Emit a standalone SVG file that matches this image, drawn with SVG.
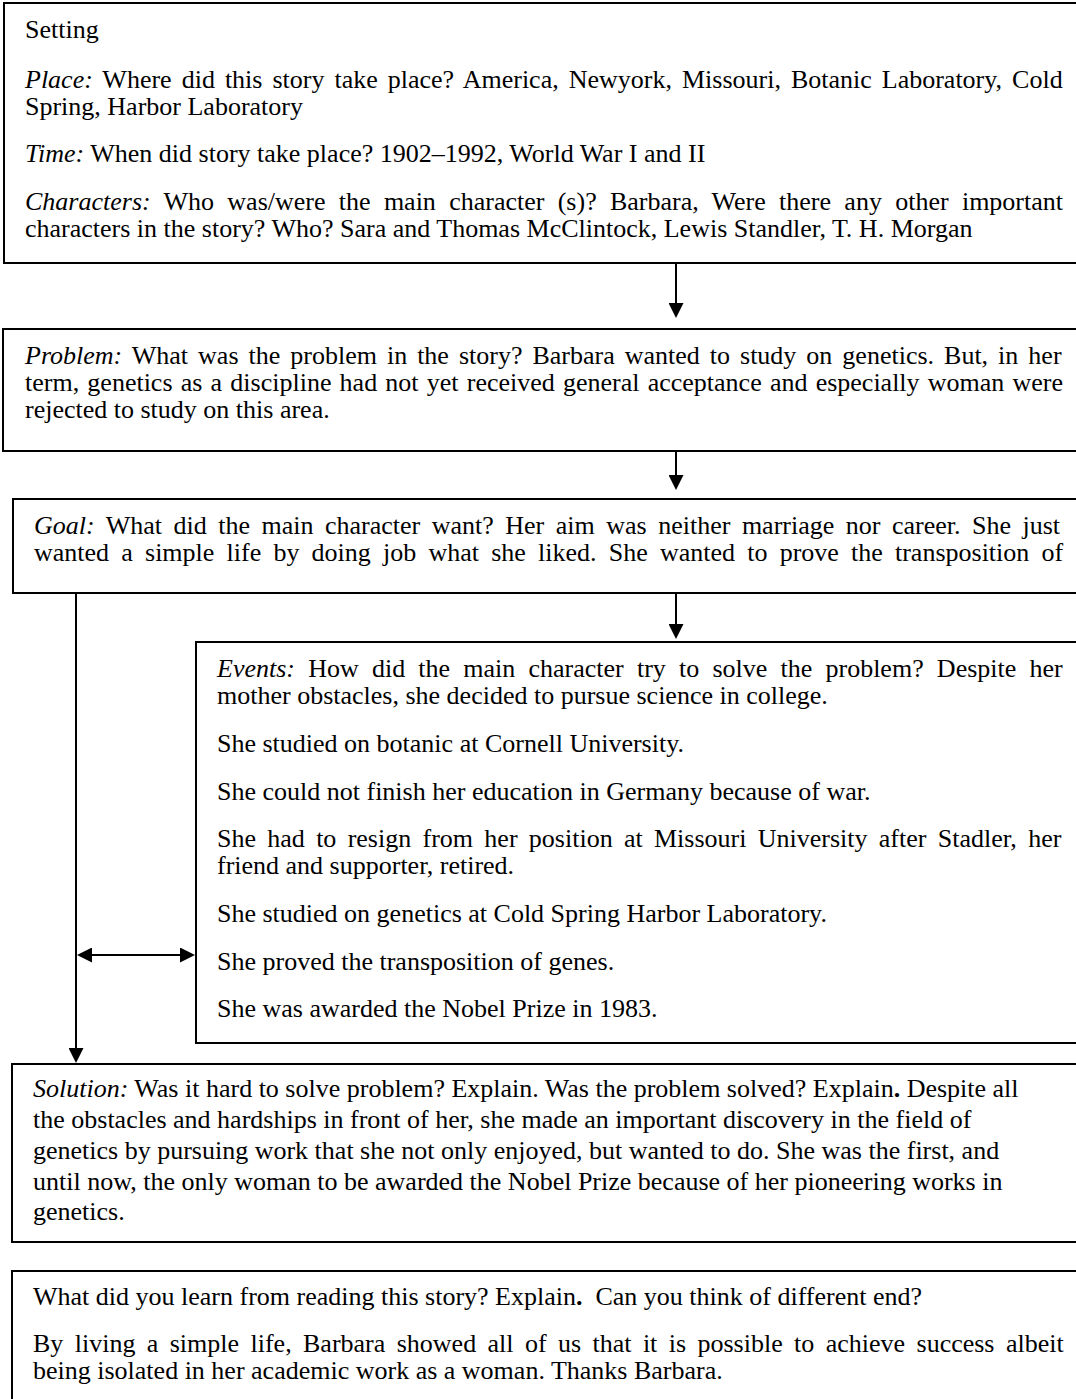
<svg xmlns="http://www.w3.org/2000/svg" width="1076" height="1399" viewBox="0 0 1076 1399">
<style>
.box{fill:none;stroke:#000;stroke-width:2}
.t{font-family:"Liberation Serif","Times New Roman",serif;font-size:26px;fill:#000}
.i{font-style:italic}
.b{font-weight:bold}
.c{fill:none;stroke:#000;stroke-width:2}
</style>
<defs>
<marker id="ah" viewBox="0 0 15 15" refX="7" refY="7.5" markerWidth="15" markerHeight="15" markerUnits="userSpaceOnUse" orient="auto-start-reverse">
<path d="M0,0 L15,7.5 L0,15 z" fill="#000"/>
</marker>
</defs>
<rect x="0" y="0" width="1076" height="1399" fill="#fff"/>

<g id="setting">
<rect class="box" x="4" y="3" width="1090" height="260"/>
<text class="t" x="25" y="38">Setting</text>
<text class="t" x="25" y="88" word-spacing="3.5"><tspan class="i">Place:</tspan> Where did this story take place? America, Newyork, Missouri, Botanic Laboratory, Cold</text>
<text class="t" x="25" y="115">Spring, Harbor Laboratory</text>
<text class="t" x="25" y="162"><tspan class="i">Time:</tspan> When did story take place? 1902–1992, World War I and II</text>
<text class="t" x="25" y="210" word-spacing="6.8"><tspan class="i">Characters:</tspan> Who was/were the main character (s)? Barbara, Were there any other important</text>
<text class="t" x="25" y="237">characters in the story? Who? Sara and Thomas McClintock, Lewis Standler, T. H. Morgan</text>
</g>

<g id="problem">
<rect class="box" x="3" y="329" width="1090" height="122"/>
<text class="t" x="25" y="364" word-spacing="3.5"><tspan class="i">Problem:</tspan> What was the problem in the story? Barbara wanted to study on genetics. But, in her</text>
<text class="t" x="25" y="391" word-spacing="1.7">term, genetics as a discipline had not yet received general acceptance and especially woman were</text>
<text class="t" x="25" y="418">rejected to study on this area.</text>
</g>

<g id="goal">
<rect class="box" x="13" y="499" width="1090" height="94"/>
<text class="t" x="34" y="534" word-spacing="5"><tspan class="i">Goal:</tspan> What did the main character want? Her aim was neither marriage nor career. She just</text>
<text class="t" x="34" y="561" word-spacing="5.7">wanted a simple life by doing job what she liked. She wanted to prove the transposition of</text>
</g>

<g id="events">
<rect class="box" x="196" y="642" width="900" height="401"/>
<text class="t" x="217" y="677" word-spacing="6.7"><tspan class="i">Events:</tspan> How did the main character try to solve the problem? Despite her</text>
<text class="t" x="217" y="704">mother obstacles, she decided to pursue science in college.</text>
<text class="t" x="217" y="752">She studied on botanic at Cornell University.</text>
<text class="t" x="217" y="800">She could not finish her education in Germany because of war.</text>
<text class="t" x="217" y="847" word-spacing="4.8">She had to resign from her position at Missouri University after Stadler, her</text>
<text class="t" x="217" y="874">friend and supporter, retired.</text>
<text class="t" x="217" y="922">She studied on genetics at Cold Spring Harbor Laboratory.</text>
<text class="t" x="217" y="970">She proved the transposition of genes.</text>
<text class="t" x="217" y="1017">She was awarded the Nobel Prize in 1983.</text>
</g>

<g id="solution">
<rect class="box" x="12" y="1064" width="1090" height="178"/>
<text class="t" x="33" y="1097"><tspan class="i">Solution:</tspan> Was it hard to solve problem? Explain. Was the problem solved? Explain<tspan class="b">.</tspan> Despite all</text>
<text class="t" x="33" y="1128">the obstacles and hardships in front of her, she made an important discovery in the field of</text>
<text class="t" x="33" y="1159">genetics by pursuing work that she not only enjoyed, but wanted to do. She was the first, and</text>
<text class="t" x="33" y="1190">until now, the only woman to be awarded the Nobel Prize because of her pioneering works in</text>
<text class="t" x="33" y="1220">genetics.</text>
</g>

<g id="learned">
<rect class="box" x="12" y="1271" width="1090" height="200"/>
<text class="t" x="33" y="1305" xml:space="preserve">What did you learn from reading this story? Explain<tspan class="b">.</tspan>  Can you think of different end?</text>
<text class="t" x="33" y="1352" word-spacing="4.9">By living a simple life, Barbara showed all of us that it is possible to achieve success albeit</text>
<text class="t" x="33" y="1379">being isolated in her academic work as a woman. Thanks Barbara.</text>
</g>

<g id="connectors">
<line class="c" x1="676" y1="263" x2="676" y2="310" marker-end="url(#ah)"/>
<line class="c" x1="676" y1="451" x2="676" y2="482" marker-end="url(#ah)"/>
<line class="c" x1="676" y1="593" x2="676" y2="631" marker-end="url(#ah)"/>
<line class="c" x1="76" y1="593" x2="76" y2="1055" marker-end="url(#ah)"/>
<line class="c" x1="85" y1="955" x2="187" y2="955" marker-start="url(#ah)" marker-end="url(#ah)"/>
</g>
</svg>
